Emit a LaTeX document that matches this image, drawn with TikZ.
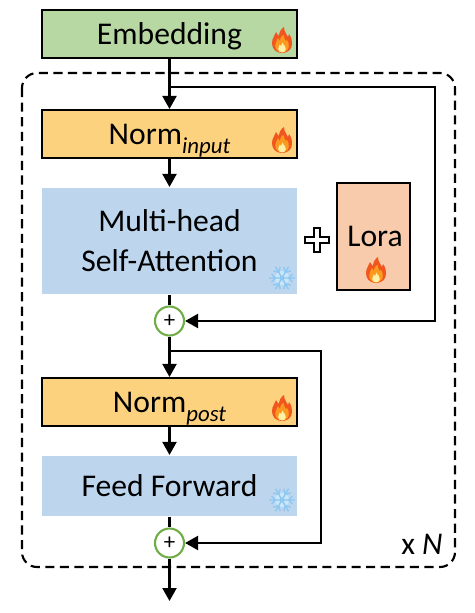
\documentclass[tikz,border=0pt]{standalone}
\usepackage{fontspec}
\setmainfont{Carlito}
\usetikzlibrary{arrows.meta}
\definecolor{embedgreen}{HTML}{B7D8A3}
\definecolor{normorange}{HTML}{FDD27F}
\definecolor{attnblue}{HTML}{BDD6EE}
\definecolor{loraskin}{HTML}{F7CBAC}
\definecolor{addgreen}{HTML}{70AD47}
\definecolor{flameout}{HTML}{F0561D}
\definecolor{flamemid}{HTML}{FB9A1E}
\definecolor{flamein}{HTML}{FFF0A8}
\definecolor{snowblue}{HTML}{8CC8F2}
\newcommand{\bodyfont}{\fontsize{18}{22.8}\selectfont}
\newcommand{\subtext}[1]{\raisebox{-0.55ex}{\fontsize{13}{13}\selectfont\textit{#1}}}
\tikzset{
	flamepart/.pic={
			\fill[#1]
			(0,13) .. controls (-7,13) and (-10,8) .. (-10,3) ..
			controls (-10,-2) and (-7,-4) .. (-6,-8) ..
			controls (-5,-6) and (-4,-5) .. (-3,-4) ..
			controls (-3,-8) and (-1,-11) .. (2,-13) ..
			controls (2,-8) and (5,-6) .. (6,-3) ..
			controls (7,-4) and (7,-5) .. (7,-6) ..
			controls (10,-2) and (10,1) .. (10,4) ..
			controls (10,9) and (6,13) .. (0,13) -- cycle;
		},
	flame/.pic={
			\pic {flamepart={flameout}};
			\pic[shift={(0,3.5)}, scale=0.68] {flamepart={flamemid}};
			\pic[shift={(0,7.5)}, scale=0.38] {flamepart={flamein}};
		},
	snowflake/.pic={
			\fill[snowblue!45] (0,0) circle (7);
			\foreach \ang in {0,60,...,300} {
					\draw[snowblue, line width=0.8pt, rotate=\ang]
					(0,0) -- (13,0)
					(6.5,0) -- (10.5,-4)
					(6.5,0) -- (10.5,4);
				}
			\fill[snowblue] (0,0) circle (2.5);
		}
}
\tikzset{
	basicbox/.style={
			shape=rectangle,
			draw=black,
			line width=1.2pt,
			minimum width=5.1cm,
			minimum height=0.96cm,
			inner sep=0pt,
			text height=14pt,
			text depth=1.6pt,
			font=\bodyfont
		},
	attnbox/.style={
			basicbox,
			draw=none,
			fill=attnblue,
			align=center
		},
	addnode/.style={
			shape=circle,
			draw=addgreen,
			line width=1.2pt,
			fill=white,
			minimum size=0.58cm,
			inner sep=0pt,
			font=\fontsize{13}{13}\selectfont
		},
	flow/.style={
			line width=1.2pt,
			-{Triangle[length=2.6mm,width=2.8mm]}
		},
	plainflow/.style={
			line width=1.2pt
		}
}

\begin{document}
\begin{tikzpicture}[x=0.02cm, y=-0.02cm]
	\useasboundingbox (0,0) rectangle (475,613);

	\draw[line width=1.2pt, dash pattern=on 5.2pt off 3.1pt, rounded corners=0.3cm]
	(22,73) rectangle (455,567);

	\node[basicbox, fill=embedgreen] (embedding) at (169.5,34) {Embedding};
	\node[basicbox, fill=normorange] (norminput) at (169.5,134) {Norm\subtext{input}};
	\node[attnbox, minimum height=2.12cm, text height=37.8pt, text depth=3.5pt] (attention) at (169.5,241) {Multi-head\\Self-Attention};
	\node[addnode] (add1) at (169.5,321) {+};
	\node[basicbox, fill=normorange] (normpost) at (169.5,402) {Norm\subtext{post}};
	\node[attnbox, minimum height=1.2cm] (forward) at (169.5,486) {Feed Forward};
	\node[addnode] (add2) at (169.5,543) {+};
	\node[basicbox, fill=loraskin, minimum width=1.46cm, minimum height=2.14cm] (lora) at (373.5,236.5) {};
	\node[font=\bodyfont] (loratext) at (375,236) {Lora};
	\node[font=\bodyfont] (repeatlabel) at (422,544) {x \textit{N}};

	\coordinate (out) at (169.5,601);
	\coordinate (branch1) at (169.5,87);
	\coordinate (branch2) at (169.5,351);

	\draw[flow] (embedding) -- (norminput);
	\draw[flow] (norminput) -- (attention);
	\draw[plainflow] (attention) -- (add1);
	\draw[flow] (add1) -- (normpost);
	\draw[flow] (normpost) -- (forward);
	\draw[plainflow] (forward) -- (add2);
	\draw[flow] (add2) -- (out);
	\draw[flow] (branch1) -| (435,321) -- (add1);
	\draw[flow] (branch2) -| (321,543) -- (add2);

	% plus sign between attention and lora
	\draw[line width=1pt, fill=white]
	(314,228) -- (320,228) -- (320,237) -- (329,237) -- (329,243) -- (320,243) --
	(320,252) -- (314,252) -- (314,243) -- (305,243) -- (305,237) -- (314,237) -- cycle;

	\pic at (282,40) {flame};
	\pic at (282,140) {flame};
	\pic at (282,408) {flame};
	\pic at (376,270) {flame};
	\pic at (282,278) {snowflake};
	\pic at (282,500) {snowflake};
\end{tikzpicture}
\end{document}
